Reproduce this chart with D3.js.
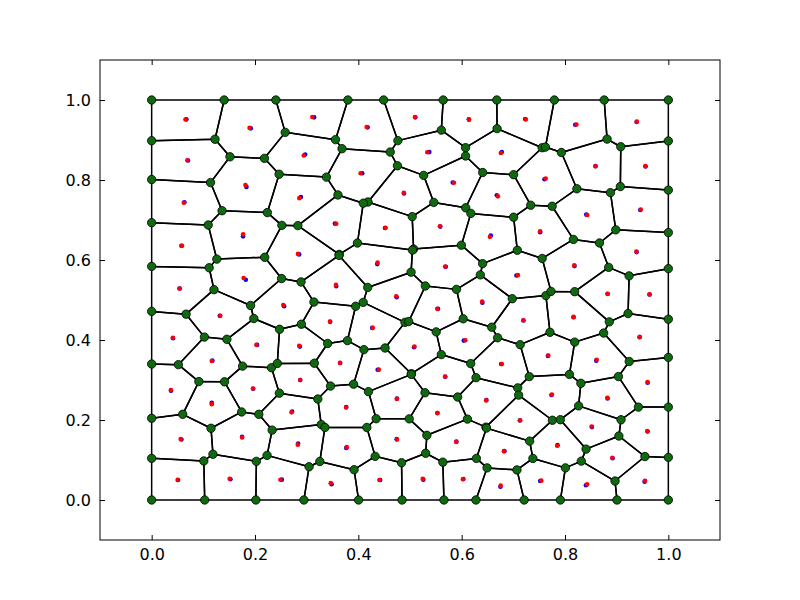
<!DOCTYPE html>
<html><head><meta charset="utf-8">
<script src="https://cdn.jsdelivr.net/npm/d3@7"></script>
<style>body{margin:0;background:#fff}svg{display:block}</style>
</head><body>
<svg id="c" width="800" height="600"></svg>
<script>
// Generator sites (data units)
const siteX = [0.0672,0.1919,0.3145,0.4180,0.5103,0.6138,0.7229,0.8198,0.9386,
0.0703,0.1835,0.2971,0.4076,0.5374,0.6777,0.5828,0.6680,0.4884,0.8591,0.9560,0.7603,
0.0634,0.2888,0.3547,0.4516,0.5587,0.8411,0.9457,0.7519,
0.0576,0.1769,0.0543,0.1822,0.1318,0.0413,0.2041,0.1176,
0.2855,0.4366,0.3572,0.4742,0.2564,0.3455,0.4269,0.2868,0.3649,0.4374,
0.6564,0.5692,0.7060,0.5543,0.6401,0.7196,0.6041,0.5078,0.6764,
0.9386,0.8184,0.8824,0.9638,0.8165,0.9444,0.7669,0.8605,
0.0374,0.1163,0.1963,0.0576,0.1750,0.0510,0.1525,0.2519,
0.2874,0.3766,0.4748,0.2719,0.2835,0.3766,0.4742,0.3483,0.4424,
0.5684,0.6479,0.5529,0.7126,0.5897,0.6828,0.5258,0.6033,0.6750,0.7519,
0.9599,0.7738,0.8824,0.8521,0.9599,0.7855,0.8921,0.8405,0.9541];
const siteY = [0.9516,0.9291,0.9566,0.9316,0.9566,0.9516,0.9524,0.9381,0.9449,
0.8489,0.7827,0.8639,0.8170,0.8697,0.8697,0.7937,0.7619,0.7662,0.8346,0.8338,0.8020,
0.7444,0.7576,0.6910,0.6800,0.6835,0.7135,0.7251,0.6692,
0.6358,0.6591,0.5288,0.5506,0.4604,0.4043,0.3877,0.3484,
0.6140,0.5897,0.5346,0.5070,0.4845,0.4454,0.4303,0.3835,0.3426,0.3258,
0.6609,0.5832,0.5614,0.4779,0.4930,0.4486,0.3985,0.3817,0.3401,
0.6198,0.5847,0.5155,0.5138,0.4569,0.4068,0.3602,0.3484,
0.2732,0.2431,0.2782,0.1511,0.1579,0.0501,0.0519,0.0509,
0.3000,0.2323,0.2539,0.2213,0.1411,0.1303,0.1521,0.0393,0.0501,
0.3083,0.2499,0.2173,0.1987,0.1461,0.1221,0.0509,0.0526,0.0333,0.0476,
0.2932,0.2624,0.2539,0.1822,0.1712,0.1371,0.1045,0.0368,0.0459];
const xTicks = [0.0,0.2,0.4,0.6,0.8,1.0];
const yTicks = [0.0,0.2,0.4,0.6,0.8,1.0];
const xDomain = [-0.1,1.1], yDomain = [-0.1,1.1];
const bounds = [0,0,1,1];

const m = {l:100,t:60,w:620,h:480};
const svg = d3.select("#c");
const g = svg.append("g").attr("transform",`translate(${m.l},${m.t})`);
const x = d3.scaleLinear().domain(xDomain).range([0,m.w]);
const y = d3.scaleLinear().domain(yDomain).range([m.h,0]);

const sites = siteX.map((v,i)=>[v,siteY[i]]);
const delaunay = d3.Delaunay.from(sites);
const vor = delaunay.voronoi(bounds);
const cells = sites.map((s,i)=>vor.cellPolygon(i)).filter(Boolean);

const line = d3.line().x(d=>x(d[0])).y(d=>y(d[1]));
g.append("g").selectAll("path").data(cells).join("path")
  .attr("d",d=>line(d)+"Z").attr("fill","none").attr("stroke","#000").attr("stroke-width",1.5)
  .attr("stroke-linejoin","round");

// unique vertices
const vmap = new Map();
cells.forEach(p=>p.forEach(pt=>{
  const k = pt[0].toFixed(6)+","+pt[1].toFixed(6);
  if(!vmap.has(k)) vmap.set(k,pt);
}));
const verts = [...vmap.values()];

// generators (blue) and centroids (red)
g.append("g").selectAll("circle").data(sites).join("circle")
  .attr("cx",d=>x(d[0])).attr("cy",d=>y(d[1])).attr("r",2.3).attr("fill","#0000ff");
const cents = cells.map(p=>d3.polygonCentroid(p.slice(0,-1)));
g.append("g").selectAll("circle").data(cents).join("circle")
  .attr("cx",d=>x(d[0])).attr("cy",d=>y(d[1])).attr("r",2.3).attr("fill","#ff0000");

g.append("g").selectAll("circle").data(verts).join("circle")
  .attr("cx",d=>x(d[0])).attr("cy",d=>y(d[1])).attr("r",4.2)
  .attr("fill","#0f6a0f").attr("stroke","#000").attr("stroke-width",0.8);

// axes
const fmt = d3.format(".1f");
const font = "DejaVu Sans";
const ax = (a)=>a.tickSizeInner(-5).tickSizeOuter(0).tickPadding(9);
const gx = g.append("g").attr("transform",`translate(0,${m.h})`).call(ax(d3.axisBottom(x).tickValues(xTicks).tickFormat(fmt)));
const gy = g.append("g").call(ax(d3.axisLeft(y).tickValues(yTicks).tickFormat(fmt)));
const gxt = g.append("g").call(ax(d3.axisTop(x).tickValues(xTicks).tickFormat("")));
const gyr = g.append("g").attr("transform",`translate(${m.w},0)`).call(ax(d3.axisRight(y).tickValues(yTicks).tickFormat("")));
[gx,gy,gxt,gyr].forEach(a=>{
  a.select(".domain").remove();
  a.selectAll("line").attr("stroke","#000").attr("stroke-width",1);
  a.selectAll("text").attr("font-family",font).attr("font-size",16).attr("fill","#000");
});
g.append("rect").attr("width",m.w).attr("height",m.h).attr("fill","none").attr("stroke","#000").attr("stroke-width",1);
</script>
</body></html>
